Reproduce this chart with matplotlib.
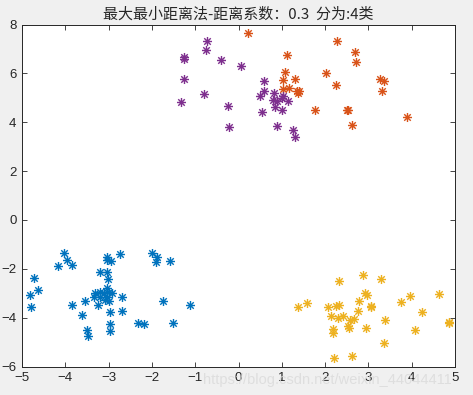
import matplotlib
matplotlib.use("Agg")
import matplotlib.pyplot as plt
from matplotlib.path import Path

plt.rcParams['font.family'] = ['Liberation Sans', 'Noto Sans CJK SC', 'DejaVu Sans']

# Cluster data
purple_x = [-0.73, -0.76, -1.27, -1.25, -0.40, 0.06, -1.27, 0.60, -0.79, 0.60, 0.50, 0.82,
            -1.32, -0.24, 0.80, 0.88, 1.02, 1.00, 1.15, 0.84, 1.00, 0.55, -0.21, 0.88, 1.27, 1.31]
purple_y = [7.31, 6.94, 6.66, 6.58, 6.53, 6.29, 5.76, 5.68, 5.14, 5.29, 5.07, 5.21,
            4.83, 4.65, 4.91, 4.88, 5.07, 4.98, 4.86, 4.61, 4.49, 4.41, 3.80, 3.83, 3.67, 3.38]

orange_x = [0.23, 1.13, 1.08, 1.03, 1.31, 1.03, 1.17, 1.34, 1.40, 1.37, 2.03, 1.77,
            2.28, 2.70, 2.72, 2.26, 3.27, 3.36, 3.32, 2.50, 2.53, 2.61, 3.90]
orange_y = [7.64, 6.74, 6.05, 5.73, 5.76, 5.36, 5.39, 5.27, 5.27, 5.18, 6.00, 4.49,
            7.31, 6.86, 6.45, 5.51, 5.76, 5.68, 5.27, 4.49, 4.49, 3.87, 4.20]

blue_x = [-4.02, -3.97, -4.16, -3.84, -4.72, -4.62, -4.82, -4.80, -3.84, -3.61, -3.55, -3.49,
          -3.48, -3.24, -3.21, -3.03, -3.01, -3.03, -3.04, -2.94, -2.73, -3.31, -3.21, -3.10,
          -2.99, -2.93, -3.03, -3.34, -3.20, -3.03, -3.08, -2.99, -2.68, -2.68, -2.96, -2.96,
          -2.96, -2.32, -2.18, -2.00, -1.89, -1.91, -1.58, -1.74, -1.51, -1.11]
blue_y = [-1.35, -1.65, -1.89, -1.83, -2.39, -2.88, -3.07, -3.58, -3.49, -3.90, -3.32, -4.51,
          -4.75, -3.49, -2.13, -2.13, -2.42, -1.50, -1.64, -1.69, -1.39, -2.98, -2.95, -3.00,
          -2.94, -2.98, -2.80, -3.14, -3.14, -3.14, -3.28, -3.31, -3.17, -3.72, -3.76, -4.27,
          -4.55, -4.23, -4.26, -1.35, -1.50, -1.71, -1.69, -3.32, -4.23, -3.49]

yellow_x = [2.88, 2.33, 3.30, 1.38, 1.58, 2.07, 2.25, 2.33, 2.93, 2.97, 2.79, 3.06, 3.05,
            2.77, 2.14, 2.30, 2.42, 2.58, 2.67, 2.54, 2.55, 2.19, 2.19, 2.95, 3.39, 3.76,
            3.97, 4.24, 4.64, 4.85, 4.86, 4.08, 3.37, 2.21, 2.63]
yellow_y = [-2.25, -2.51, -2.43, -3.58, -3.41, -3.55, -3.52, -3.48, -2.98, -3.08, -3.31, -3.52,
            -3.58, -3.74, -3.93, -4.03, -3.93, -4.10, -4.04, -4.34, -4.44, -4.45, -4.64, -4.44,
            -4.10, -3.36, -3.13, -3.77, -3.04, -4.17, -4.21, -4.52, -5.05, -5.65, -5.57]

x_ticks = [-5, -4, -3, -2, -1, 0, 1, 2, 3, 4, 5]
y_ticks = [-6, -4, -2, 0, 2, 4, 6, 8]
title_text = '最大最小距离法-距离系数：0.3  分为:4类'
watermark = 'https://blog.csdn.net/weixin_44044411'

series = [
    (blue_x, blue_y, '#0072BD'),
    (orange_x, orange_y, '#D95319'),
    (yellow_x, yellow_y, '#EDB120'),
    (purple_x, purple_y, '#7E2F8E'),
]

# MATLAB-style asterisk marker (8 spokes)
d = 0.72
verts = [(-1, 0), (1, 0), (0, -1), (0, 1), (-d, -d), (d, d), (-d, d), (d, -d)]
codes = [Path.MOVETO, Path.LINETO] * 4
star = Path(verts, codes)

fig = plt.figure(figsize=(4.73, 3.95), dpi=100, facecolor='#f0f0f0')
ax = fig.add_axes([22 / 473, 1 - 366.5 / 395, (455 - 22) / 473, (366.5 - 24.5) / 395])
ax.set_facecolor('white')

for xs, ys, c in series:
    ax.plot(xs, ys, linestyle='none', marker=star, markersize=6.5,
            markerfacecolor='none', markeredgecolor=c, markeredgewidth=1.0)

ax.set_xlim(-5, 5)
ax.set_ylim(-6, 8)
ax.set_xticks(x_ticks)
ax.set_yticks(y_ticks)
ax.tick_params(direction='in', top=True, right=True, length=3.5, width=0.6,
               color='#262626', labelsize=9.5, labelcolor='#262626', pad=4)
for sp in ax.spines.values():
    sp.set_color('#262626')
    sp.set_linewidth(0.7)

ax.set_title(title_text, fontsize=10.8, color='#262626', pad=4,
             family=['Noto Sans CJK SC', 'DejaVu Sans'])

fig.text(0.692, 0.037, watermark, ha='center', va='center',
         fontsize=10.5, color='#dadada', alpha=0.8)

fig.savefig('out.png', dpi=100, facecolor=fig.get_facecolor())
